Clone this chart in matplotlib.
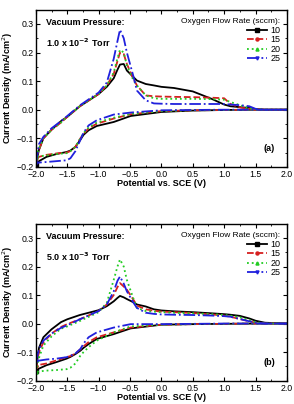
import matplotlib.pyplot as plt
from matplotlib.ticker import MultipleLocator

# forward (anodic) scan potentials and reverse scan potentials
x_fwd = [-2.0, -1.95, -1.88, -1.75, -1.6, -1.5, -1.3, -1.0, -0.87, -0.76, -0.7, -0.66, -0.6,
         -0.55, -0.45, -0.39, -0.25, -0.12, 0.0, 0.2, 0.5, 0.8, 1.0, 1.1, 1.25, 1.4, 1.5, 1.65, 2.0]
x_rev = [2.0, 1.5, 1.0, 0.5, 0.0, -0.49, -0.76, -1.03, -1.16, -1.24, -1.29, -1.37, -1.45, -1.51,
         -1.67, -1.83, -1.95, -2.0]

labels = ['10', '15', '20', '25']
colors = ['black', '#d62020', '#22cc22', '#2020dd']
styles = ['-', '--', ':', '-.']
markers = ['s', 'o', '^', 'v']

# panel (a): 1.0 x 10^-2 Torr
a_fwd = {
    '10': [-0.19, -0.14, -0.1, -0.07, -0.04, -0.025, 0.012, 0.055, 0.08, 0.11, 0.14, 0.158, 0.16,
           0.137, 0.115, 0.102, 0.09, 0.085, 0.08, 0.076, 0.064, 0.038, 0.018, 0.012, 0.009, 0.006,
           0.002, 0.0, 0.0],
    '15': [-0.17, -0.14, -0.1, -0.07, -0.045, -0.025, 0.012, 0.055, 0.085, 0.125, 0.17, 0.2, 0.195,
           0.16, 0.11, 0.085, 0.05, 0.047, 0.046, 0.045, 0.044, 0.042, 0.04, 0.02, 0.008, 0.003,
           0.001, 0.0, 0.0],
    '20': [-0.165, -0.135, -0.1, -0.07, -0.045, -0.025, 0.012, 0.055, 0.085, 0.13, 0.18, 0.21, 0.2,
           0.155, 0.105, 0.085, 0.05, 0.04, 0.038, 0.038, 0.038, 0.037, 0.035, 0.027, 0.016, 0.005,
           0.002, 0.0, 0.0],
    '25': [-0.188, -0.12, -0.095, -0.065, -0.04, -0.022, 0.015, 0.06, 0.095, 0.178, 0.24, 0.28, 0.25,
           0.2, 0.12, 0.067, 0.033, 0.022, 0.021, 0.02, 0.02, 0.02, 0.02, 0.018, 0.016, 0.012,
           0.003, 0.0, 0.0],
}
a_rev = {
    '10': [0.0, 0.0, -0.001, -0.003, -0.008, -0.022, -0.043, -0.057, -0.072, -0.088, -0.105, -0.13,
           -0.143, -0.148, -0.155, -0.165, -0.18, -0.19],
    '15': [0.0, 0.0, -0.001, -0.002, -0.005, -0.016, -0.031, -0.049, -0.065, -0.085, -0.1, -0.13,
           -0.145, -0.15, -0.153, -0.158, -0.165, -0.17],
    '20': [0.0, 0.0, -0.001, -0.002, -0.005, -0.015, -0.028, -0.045, -0.062, -0.082, -0.1, -0.13,
           -0.145, -0.152, -0.155, -0.16, -0.163, -0.165],
    '25': [0.0, 0.0, 0.0, -0.001, -0.002, -0.01, -0.017, -0.037, -0.055, -0.08, -0.105, -0.145,
           -0.17, -0.177, -0.18, -0.183, -0.185, -0.188],
}

# panel (b): 5.0 x 10^-3 Torr
b_fwd = {
    '10': [-0.165, -0.085, -0.048, -0.02, 0.005, 0.015, 0.03, 0.047, 0.061, 0.078, 0.09, 0.097,
           0.092, 0.086, 0.075, 0.067, 0.06, 0.05, 0.046, 0.043, 0.04, 0.036, 0.033, 0.031, 0.027,
           0.018, 0.01, 0.003, 0.0],
    '15': [-0.148, -0.1, -0.066, -0.035, -0.012, -0.002, 0.015, 0.044, 0.067, 0.1, 0.128, 0.142,
           0.13, 0.119, 0.085, 0.063, 0.05, 0.045, 0.042, 0.04, 0.037, 0.032, 0.028, 0.024, 0.016,
           0.008, 0.003, 0.0, 0.0],
    '20': [-0.17, -0.12, -0.077, -0.045, -0.018, -0.01, 0.009, 0.04, 0.073, 0.153, 0.2, 0.225,
           0.2, 0.153, 0.09, 0.055, 0.044, 0.042, 0.04, 0.038, 0.036, 0.033, 0.03, 0.028, 0.022,
           0.012, 0.005, 0.0, 0.0],
    '25': [-0.133, -0.09, -0.06, -0.035, -0.015, -0.006, 0.015, 0.044, 0.067, 0.113, 0.15, 0.165,
           0.14, 0.113, 0.075, 0.055, 0.038, 0.034, 0.032, 0.031, 0.03, 0.028, 0.026, 0.024, 0.016,
           0.008, 0.003, 0.0, 0.0],
}
b_rev = {
    '10': [0.0, 0.0, -0.001, -0.002, -0.004, -0.017, -0.037, -0.054, -0.072, -0.085, -0.095, -0.107,
           -0.117, -0.123, -0.135, -0.146, -0.158, -0.165],
    '15': [0.0, 0.0, -0.001, -0.002, -0.004, -0.014, -0.031, -0.048, -0.065, -0.08, -0.09, -0.105,
           -0.114, -0.118, -0.129, -0.14, -0.145, -0.148],
    '20': [0.0, 0.0, -0.001, -0.002, -0.004, -0.01, -0.031, -0.06, -0.083, -0.1, -0.112, -0.14,
           -0.155, -0.16, -0.163, -0.165, -0.168, -0.17],
    '25': [0.0, 0.0, 0.0, -0.001, -0.002, -0.002, -0.014, -0.031, -0.048, -0.07, -0.089, -0.105,
           -0.113, -0.118, -0.123, -0.126, -0.13, -0.133],
}

plt.rcParams['font.family'] = ['Liberation Sans', 'DejaVu Sans']

fig = plt.figure(figsize=(2.94, 4.04), dpi=100)
ax_a = fig.add_axes([0.122, 0.587, 0.854, 0.389])
ax_b = fig.add_axes([0.122, 0.058, 0.854, 0.388])


def draw_panel(ax, fwd, rev, pressure, tag):
    for lab, c, ls, mk in zip(labels, colors, styles, markers):
        ax.plot(x_fwd, fwd[lab], color=c, ls=ls, lw=1.3, marker=mk, ms=2.2, markevery=100,
                label=lab)
        ax.plot(x_rev, rev[lab], color=c, ls=ls, lw=1.3)
    ax.set_xlim(-2.0, 2.0)
    ax.set_ylim(-0.2, 0.35)
    ax.xaxis.set_major_locator(MultipleLocator(0.5))
    ax.xaxis.set_minor_locator(MultipleLocator(0.25))
    ax.yaxis.set_major_locator(MultipleLocator(0.1))
    ax.yaxis.set_minor_locator(MultipleLocator(0.05))
    ax.tick_params(which='both', direction='in', top=True, right=True, labelsize=6.3, pad=1.5)
    ax.tick_params(axis='x', which='major', pad=2.5)
    ax.tick_params(which='major', length=3)
    ax.tick_params(which='minor', length=1.5)
    for s in ax.spines.values():
        s.set_linewidth(1.0)
    ax.set_xlabel('Potential vs. SCE (V)', fontsize=6.5, fontweight='bold', labelpad=0)
    ax.set_ylabel('Current Density (mA/cm$^2$)', fontsize=6.5, fontweight='bold', labelpad=1)
    ax.text(0.04, 0.95, 'Vacuum Pressure:', transform=ax.transAxes, fontsize=6.5,
            fontweight='bold', va='top')
    ax.text(0.04, 0.83, pressure, transform=ax.transAxes, fontsize=6.5,
            fontweight='bold', va='top')
    ax.text(0.93, 0.1, tag, transform=ax.transAxes, fontsize=6.5, fontweight='bold',
            ha='center')
    leg = ax.legend(title='Oxygen Flow Rate (sccm):', loc='upper right', frameon=False,
                    fontsize=6.5, title_fontsize=6, handlelength=2.2, labelspacing=0.05,
                    borderaxespad=0.3, handletextpad=0.4, bbox_to_anchor=(1.0, 0.985))
    leg._legend_box.align = 'right'


draw_panel(ax_a, a_fwd, a_rev, '1.0 x 10$^{\\mathbf{-2}}$ Torr', '(a)')
draw_panel(ax_b, b_fwd, b_rev, '5.0 x 10$^{\\mathbf{-3}}$ Torr', '(b)')

fig.savefig('out.png', dpi=100)
